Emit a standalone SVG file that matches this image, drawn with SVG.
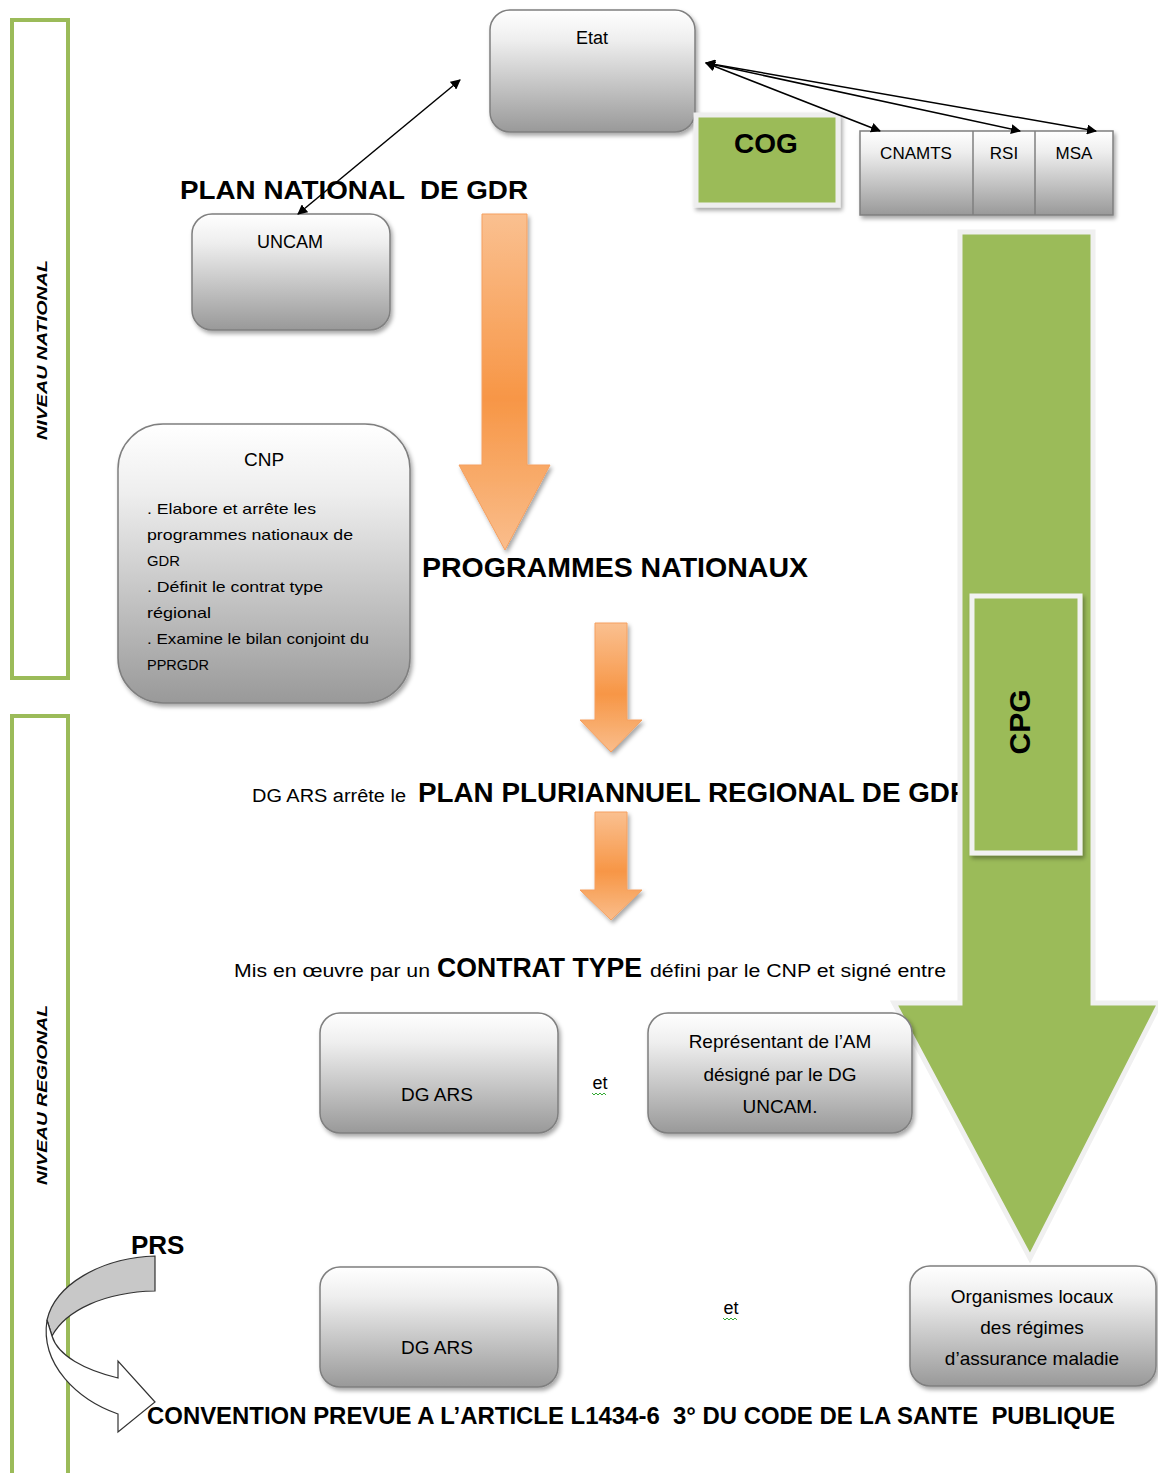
<svg xmlns="http://www.w3.org/2000/svg" width="1158" height="1473" viewBox="0 0 1158 1473">
<defs>
<linearGradient id="gray" x1="0" y1="0" x2="0" y2="1">
<stop offset="0" stop-color="#ffffff"/>
<stop offset="0.25" stop-color="#eeeeee"/>
<stop offset="1" stop-color="#999999"/>
</linearGradient>
<linearGradient id="orange" x1="0" y1="0" x2="0" y2="1">
<stop offset="0" stop-color="#fac090"/>
<stop offset="0.55" stop-color="#f79646"/>
<stop offset="0.8" stop-color="#f8ac6c"/>
<stop offset="1" stop-color="#fabd8c"/>
</linearGradient>
<filter id="sh" x="-10%" y="-10%" width="130%" height="130%">
<feDropShadow dx="2" dy="3" stdDeviation="2" flood-color="#000" flood-opacity="0.35"/>
</filter>
<marker id="ah" markerWidth="10" markerHeight="10" refX="9" refY="5" orient="auto-start-reverse" markerUnits="userSpaceOnUse">
<path d="M0,0 L10,5 L0,10 Z" fill="#000"/>
</marker>
<style>
.box{fill:url(#gray);stroke:#7f7f7f;stroke-width:1.5;filter:url(#sh)}
.t{font-family:"Liberation Sans",Arial,sans-serif;fill:#000;white-space:pre}
.c{text-anchor:middle}
.b{font-weight:bold}
.lvl{fill:none;stroke:#9bbb59;stroke-width:4}
.conn{stroke:#000;stroke-width:1.5;fill:none;marker-start:url(#ah);marker-end:url(#ah)}
.oarr{fill:url(#orange);stroke:#f5a060;stroke-width:1;filter:url(#sh)}
</style>
</defs>
<rect width="1158" height="1473" fill="#fff"/>

<g id="niveau-national">
<rect class="lvl" x="12" y="20" width="56" height="658"/>
<text class="t b c" font-style="italic" font-size="14" transform="translate(47,350) rotate(-90)" textLength="180" lengthAdjust="spacingAndGlyphs">NIVEAU NATIONAL</text>
</g>
<g id="niveau-regional">
<rect class="lvl" x="12" y="716" width="56" height="770"/>
<text class="t b c" font-style="italic" font-size="14" transform="translate(47,1095) rotate(-90)" textLength="180" lengthAdjust="spacingAndGlyphs">NIVEAU REGIONAL</text>
</g>

<g id="etat">
<rect class="box" x="490" y="10" width="205" height="122" rx="20"/>
<text class="t c" x="592" y="44" font-size="18">Etat</text>
</g>

<g id="cog">
<rect x="696" y="115" width="142" height="90" fill="#9bbb59" stroke="#eeeeee" stroke-width="5" filter="url(#sh)"/>
<text class="t b c" x="766" y="153" font-size="28">COG</text>
</g>

<g id="caisses">
<rect class="box" x="860" y="131" width="253" height="84"/>
<line x1="973" y1="131" x2="973" y2="215" stroke="#7f7f7f" stroke-width="1.5"/>
<line x1="1035" y1="131" x2="1035" y2="215" stroke="#7f7f7f" stroke-width="1.5"/>
<text class="t c" x="916" y="159" font-size="17">CNAMTS</text>
<text class="t c" x="1004" y="159" font-size="17">RSI</text>
<text class="t c" x="1074" y="159" font-size="17">MSA</text>
</g>

<g id="plan-national">
<text class="t b" x="180" y="199" font-size="26" textLength="348" lengthAdjust="spacingAndGlyphs">PLAN NATIONAL  DE GDR</text>
</g>

<g id="uncam">
<rect class="box" x="192" y="214" width="198" height="116" rx="20"/>
<text class="t c" x="290" y="248" font-size="18">UNCAM</text>
</g>

<g id="fleche-nationale">
<path class="oarr" d="M482,214 L527,214 L527,465 L550,465 L505,550 L459,465 L482,465 Z"/>
</g>

<g id="programmes-nationaux">
<text class="t b" x="422" y="577" font-size="27" textLength="386" lengthAdjust="spacingAndGlyphs">PROGRAMMES NATIONAUX</text>
</g>

<g id="cnp">
<rect class="box" x="118" y="424" width="292" height="279" rx="45"/>
<text class="t c" x="264" y="466" font-size="19">CNP</text>
<g class="t" font-size="15">
<text x="147" y="514" textLength="169" lengthAdjust="spacingAndGlyphs">. Elabore et arrête les</text>
<text x="147" y="540" textLength="206" lengthAdjust="spacingAndGlyphs">programmes nationaux de</text>
<text x="147" y="566" textLength="33" lengthAdjust="spacingAndGlyphs">GDR</text>
<text x="147" y="592" textLength="176" lengthAdjust="spacingAndGlyphs">. Définit le contrat type</text>
<text x="147" y="618" textLength="64" lengthAdjust="spacingAndGlyphs">régional</text>
<text x="147" y="644" textLength="222" lengthAdjust="spacingAndGlyphs">. Examine le bilan conjoint du</text>
<text x="147" y="670" textLength="62" lengthAdjust="spacingAndGlyphs">PPRGDR</text>
</g>
</g>

<g id="fleche-2">
<path class="oarr" d="M595,623 L627,623 L627,720 L642,720 L611,752 L580,720 L595,720 Z"/>
</g>

<g id="plan-regional">
<text class="t" x="252" y="802" font-size="18" textLength="154" lengthAdjust="spacingAndGlyphs">DG ARS arrête le</text>
<text class="t b" x="418" y="802" font-size="27" textLength="552" lengthAdjust="spacingAndGlyphs">PLAN PLURIANNUEL REGIONAL DE GDR</text>
</g>

<g id="fleche-3">
<path class="oarr" d="M595,812 L627,812 L627,890 L642,890 L611,920 L580,890 L595,890 Z"/>
</g>

<g id="contrat-type">
<text class="t" x="234" y="977" font-size="18" textLength="196" lengthAdjust="spacingAndGlyphs">Mis en œuvre par un</text>
<text class="t b" x="437" y="977" font-size="27" textLength="205" lengthAdjust="spacingAndGlyphs">CONTRAT TYPE</text>
<text class="t" x="650" y="977" font-size="18" textLength="296" lengthAdjust="spacingAndGlyphs">défini par le CNP et signé entre</text>
</g>

<g id="cpg">
<path d="M960,232 L1093,232 L1093,1003 L1160,1003 L1030,1258 L894,1003 L960,1003 Z" fill="#9bbb59" stroke="#f0f0f0" stroke-width="5"/>
<rect x="972" y="596" width="108" height="257" fill="#9bbb59" stroke="#f2f2f2" stroke-width="5" filter="url(#sh)"/>
<text class="t b c" font-size="30" transform="translate(1030,722) rotate(-90)">CPG</text>
</g>

<g id="dg-ars-1">
<rect class="box" x="320" y="1013" width="238" height="120" rx="20"/>
<text class="t c" x="437" y="1101" font-size="19">DG ARS</text>
</g>
<g id="et-1">
<text class="t c" x="600" y="1089" font-size="18">et</text>
<path d="M592,1093 l2,2 l2,-2 l2,2 l2,-2 l2,2 l2,-2 l2,2" fill="none" stroke="#3a3" stroke-width="1"/>
</g>
<g id="representant-am">
<rect class="box" x="648" y="1013" width="264" height="120" rx="20"/>
<text class="t c" x="780" y="1048" font-size="19">Représentant de l’AM</text>
<text class="t c" x="780" y="1081" font-size="19">désigné par le DG</text>
<text class="t c" x="780" y="1113" font-size="19">UNCAM.</text>
</g>

<g id="prs">
<text class="t b" x="131" y="1254" font-size="26">PRS</text>
<path d="M155,1256 C100,1258 55,1285 47,1320 L52,1336 C66,1310 105,1292 155,1291 Z" fill="#c8c8c8" stroke="#333" stroke-width="1.2"/>
<path d="M47,1320 C40,1365 78,1400 118,1414 L118,1432 L155,1402 L118,1361 L118,1378 C85,1370 58,1356 52,1336 Z" fill="#fff" stroke="#333" stroke-width="1.2"/>
</g>

<g id="dg-ars-2">
<rect class="box" x="320" y="1267" width="238" height="120" rx="20"/>
<text class="t c" x="437" y="1354" font-size="19">DG ARS</text>
</g>
<g id="et-2">
<text class="t c" x="731" y="1314" font-size="18">et</text>
<path d="M723,1318 l2,2 l2,-2 l2,2 l2,-2 l2,2 l2,-2 l2,2" fill="none" stroke="#3a3" stroke-width="1"/>
</g>
<g id="organismes-locaux">
<rect class="box" x="910" y="1266" width="246" height="120" rx="20"/>
<text class="t c" x="1032" y="1303" font-size="19">Organismes locaux</text>
<text class="t c" x="1032" y="1334" font-size="19">des régimes</text>
<text class="t c" x="1032" y="1365" font-size="19">d’assurance maladie</text>
</g>

<g id="convention">
<text class="t b" x="147" y="1424" font-size="23" textLength="968" lengthAdjust="spacingAndGlyphs">CONVENTION PREVUE A L’ARTICLE L1434-6  3° DU CODE DE LA SANTE  PUBLIQUE</text>
</g>

<g id="connectors">
<line class="conn" x1="298" y1="214" x2="460" y2="80"/>
<line class="conn" x1="706" y1="63" x2="880" y2="131"/>
<line class="conn" x1="706" y1="63" x2="1020" y2="131"/>
<line class="conn" x1="706" y1="63" x2="1096" y2="131"/>
</g>
</svg>
